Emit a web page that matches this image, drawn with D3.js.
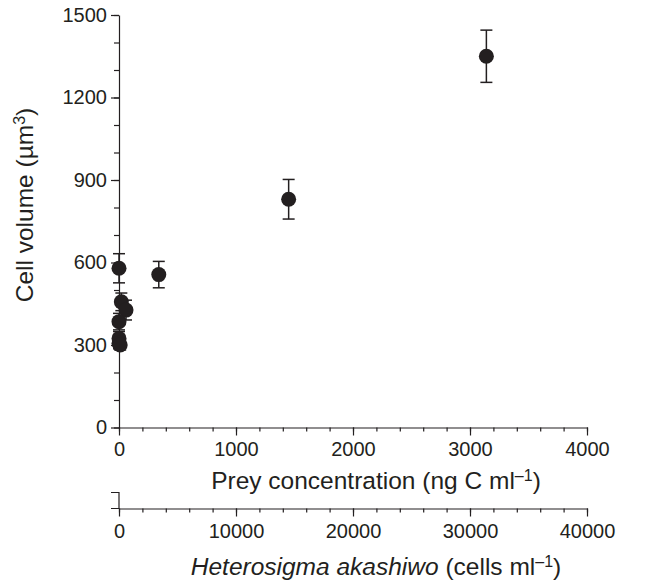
<!DOCTYPE html>
<html>
<head>
<meta charset="utf-8">
<script src="https://cdn.jsdelivr.net/npm/d3@7"></script>
<style>
    body { margin: 0; background: #fff; }
    svg text { font-family: "Liberation Sans", Arial, Helvetica, sans-serif; fill: #231f20; }
    .axis path, .axis line { stroke: #231f20; stroke-width: 1.2; }
</style>
</head>
<body>
<div id="chart"></div>
<script>
// prey carbon concentration (ng C ml-1), cell volume (um3) and its error
var preyConc = [0, 20, 60, 0, 0, 0, 10, 340, 1450, 3140];
var cellVol  = [579, 457, 427, 385, 324, 306, 300, 556, 830, 1350];
var volErr   = [53, 32, 36, 30, 25, 20, 18, 48, 72, 95];

var xTicks = [0, 1000, 2000, 3000, 4000];
var cellTicks = [0, 10000, 20000, 30000, 40000];
var yTicks = [0, 300, 600, 900, 1200, 1500];

var W = 652, H = 584;
var pLeft = 119, pRight = 587, pTop = 15, pBottom = 427.5;
var axis2Y = 508.5;
var titleX = 376;

var svg = d3.select("#chart").append("svg")
    .attr("width", W).attr("height", H);

var x = d3.scaleLinear().domain([0, 4000]).range([pLeft, pRight]);
var x2 = d3.scaleLinear().domain([0, 40000]).range([pLeft, pRight]);
var y = d3.scaleLinear().domain([0, 1500]).range([pBottom, pTop]);
var fmt = d3.format("d");

// y axis, minor then major
svg.append("g").attr("class", "axis")
    .attr("transform", "translate(" + pLeft + ",0)")
    .call(d3.axisLeft(y).tickValues(d3.range(0, 1501, 100)).tickSize(5).tickFormat(""))
    .select(".domain").remove();
var gy = svg.append("g").attr("class", "axis")
    .attr("transform", "translate(" + pLeft + ",0)")
    .call(d3.axisLeft(y).tickValues(yTicks).tickSize(8).tickSizeOuter(0).tickPadding(4).tickFormat(fmt));
gy.selectAll("text").style("font-size", "20px");

// x axis (prey carbon)
svg.append("g").attr("class", "axis")
    .attr("transform", "translate(0," + pBottom + ")")
    .call(d3.axisBottom(x).tickValues(d3.range(0, 4001, 200)).tickSize(4).tickFormat(""))
    .select(".domain").remove();
var gx = svg.append("g").attr("class", "axis")
    .attr("transform", "translate(0," + pBottom + ")")
    .call(d3.axisBottom(x).tickValues(xTicks).tickSize(8).tickSizeOuter(0).tickPadding(6).tickFormat(fmt));
gx.selectAll("text").style("font-size", "20px");

// second x axis (cell abundance), with its little stub on the left
svg.append("path")
    .attr("d", "M" + (pLeft - 8) + "," + (axis2Y - 16) + "H" + pLeft + "V" + axis2Y + "H" + (pLeft - 8))
    .attr("fill", "none")
    .attr("stroke", "#231f20").attr("stroke-width", 1.2);
svg.append("g").attr("class", "axis")
    .attr("transform", "translate(0," + axis2Y + ")")
    .call(d3.axisBottom(x2).tickValues(d3.range(0, 40001, 2000)).tickSize(4).tickFormat(""))
    .select(".domain").remove();
var gx2 = svg.append("g").attr("class", "axis")
    .attr("transform", "translate(0," + axis2Y + ")")
    .call(d3.axisBottom(x2).tickValues(cellTicks).tickSize(8).tickSizeOuter(0).tickPadding(7).tickFormat(fmt));
gx2.selectAll("text").style("font-size", "20px");

// axis titles
var yt = svg.append("text")
    .attr("transform", "translate(33,205) rotate(-90)")
    .attr("text-anchor", "middle")
    .style("font-size", "24.5px");
yt.append("tspan").text("Cell volume (\u00b5m");
yt.append("tspan").attr("dy", -8).style("font-size", "16px").text("3");
yt.append("tspan").attr("dy", 8).text(")");

var xt = svg.append("text")
    .attr("x", titleX).attr("y", 489)
    .attr("text-anchor", "middle")
    .style("font-size", "24.5px");
xt.append("tspan").text("Prey concentration (ng C ml");
xt.append("tspan").attr("dy", -8).style("font-size", "16px").text("\u20131");
xt.append("tspan").attr("dy", 8).text(")");

var xt2 = svg.append("text")
    .attr("x", titleX).attr("y", 575)
    .attr("text-anchor", "middle")
    .style("font-size", "24.5px");
xt2.append("tspan").style("font-style", "italic").text("Heterosigma akashiwo");
xt2.append("tspan").text(" (cells ml");
xt2.append("tspan").attr("dy", -8).style("font-size", "16px").text("\u20131");
xt2.append("tspan").attr("dy", 8).text(")");

// points with error bars
var pts = preyConc.map(function (d, i) {
    return { c: d, v: cellVol[i], e: volErr[i] };
});

var eb = svg.append("g").attr("stroke", "#231f20").attr("stroke-width", 1.5);
pts.forEach(function (d) {
    var px = x(d.c);
    eb.append("line").attr("x1", px).attr("x2", px)
        .attr("y1", y(d.v - d.e)).attr("y2", y(d.v + d.e));
    eb.append("line").attr("x1", px - 6).attr("x2", px + 6)
        .attr("y1", y(d.v - d.e)).attr("y2", y(d.v - d.e));
    eb.append("line").attr("x1", px - 6).attr("x2", px + 6)
        .attr("y1", y(d.v + d.e)).attr("y2", y(d.v + d.e));
});

svg.append("g").selectAll("circle")
    .data(pts)
    .enter().append("circle")
    .attr("cx", function (d) { return x(d.c); })
    .attr("cy", function (d) { return y(d.v); })
    .attr("r", 7.5)
    .attr("fill", "#231f20");
</script>
</body>
</html>
